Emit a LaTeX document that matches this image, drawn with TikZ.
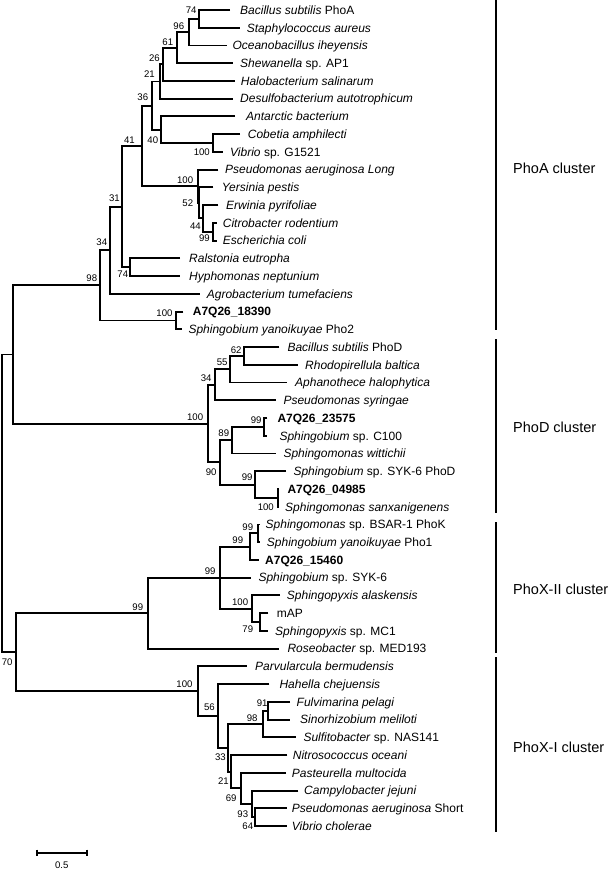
\documentclass[tikz,border=0pt]{standalone}
\usepackage{fontspec}
\setmainfont{Liberation Sans}
\usetikzlibrary{calc}
\tikzset{
  br/.style={line width=1.9pt, black},
  lab/.style={inner sep=0pt, font=\fontsize{12}{14}\selectfont, anchor=base west},
  bsl/.style={inner sep=0pt, font=\fontsize{9.6}{11}\selectfont, anchor=east},
  clab/.style={inner sep=0pt, font=\fontsize{14.5}{17}\selectfont, anchor=base west},
  cbar/.style={line width=1.9pt, black}
}
\newcommand\mkleaf[5]{%
  \coordinate (#1) at (#3, {10+(#2-1)*17.74});
  \node[lab] (#1-t) at (#4, {10+(#2-1)*17.74+4.3}) {#5};
}
\newcommand\mknode[4]{%
  \coordinate (#1-m) at ($(#3)!.5!(#4)$);
  \coordinate (#1) at (#2,0 |- #1-m);
  \draw[br] (#3) -| (#1) |- (#4);
}
\newcommand\bsv[4]{\node[bsl] (#1) at (#2,#3) {#4};}
\begin{document}
\begin{tikzpicture}[x=1pt,y=-1pt]
\useasboundingbox (0,0) rectangle (610,869);
% ---------------- leaves
\mkleaf{L1}{1}{230}{240}{\textit{Bacillus subtilis} PhoA}
\mkleaf{L2}{2}{240}{246.7}{\textit{Staphylococcus aureus}}
\mkleaf{L3}{3}{226.7}{232.3}{\textit{Oceanobacillus iheyensis}}
\mkleaf{L4}{4}{233.3}{240}{\textit{Shewanella} sp. AP1}
\mkleaf{L5}{5}{235}{240.7}{\textit{Halobacterium salinarum}}
\mkleaf{L6}{6}{233.3}{240}{\textit{Desulfobacterium autotrophicum}}
\mkleaf{L7}{7}{235}{246}{\textit{Antarctic bacterium}}
\mkleaf{L8}{8}{240}{247.7}{\textit{Cobetia amphilecti}}
\mkleaf{L9}{9}{222.7}{230}{\textit{Vibrio} sp. G1521}
\mkleaf{L10}{10}{218.3}{225}{\textit{Pseudomonas aeruginosa Long}}
\mkleaf{L11}{11}{213.3}{221.7}{\textit{Yersinia pestis}}
\mkleaf{L12}{12}{218.3}{226}{\textit{Erwinia pyrifoliae}}
\mkleaf{L13}{13}{216.7}{222.7}{\textit{Citrobacter rodentium}}
\mkleaf{L14}{14}{216.7}{222.7}{\textit{Escherichia coli}}
\mkleaf{L15}{15}{180}{189}{\textit{Ralstonia eutropha}}
\mkleaf{L16}{16}{180}{189}{\textit{Hyphomonas neptunium}}
\mkleaf{L17}{17}{200}{206.7}{\textit{Agrobacterium tumefaciens}}
\mkleaf{L18}{18}{183.3}{192.7}{\textbf{A7Q26\_18390}}
\mkleaf{L19}{19}{182}{188.3}{\textit{Sphingobium yanoikuyae} Pho2}
\mkleaf{L20}{20}{279.3}{287.3}{\textit{Bacillus subtilis} PhoD}
\mkleaf{L21}{21}{297.7}{305}{\textit{Rhodopirellula baltica}}
\mkleaf{L22}{22}{287.3}{295}{\textit{Aphanothece halophytica}}
\mkleaf{L23}{23}{276}{283.3}{\textit{Pseudomonas syringae}}
\mkleaf{L24}{24}{267.3}{277.3}{\textbf{A7Q26\_23575}}
\mkleaf{L25}{25}{267.3}{279.3}{\textit{Sphingobium} sp. C100}
\mkleaf{L26}{26}{276}{283.3}{\textit{Sphingomonas wittichii}}
\mkleaf{L27}{27}{286}{293.3}{\textit{Sphingobium} sp. SYK-6 PhoD}
\mkleaf{L28}{28}{279}{287.3}{\textbf{A7Q26\_04985}}
\mkleaf{L29}{29}{279}{285}{\textit{Sphingomonas sanxanigenens}}
\mkleaf{L30}{30}{260}{265.5}{\textit{Sphingomonas} sp. BSAR-1 PhoK}
\mkleaf{L31}{31}{260}{266.7}{\textit{Sphingobium yanoikuyae} Pho1}
\mkleaf{L32}{32}{259.3}{265}{\textbf{A7Q26\_15460}}
\mkleaf{L33}{33}{250.7}{258.3}{\textit{Sphingobium} sp. SYK-6}
\mkleaf{L34}{34}{280}{286.7}{\textit{Sphingopyxis alaskensis}}
\mkleaf{L35}{35}{268.3}{276.7}{mAP}
\mkleaf{L36}{36}{268.3}{275}{\textit{Sphingopyxis} sp. MC1}
\mkleaf{L37}{37}{279.3}{287.3}{\textit{Roseobacter} sp. MED193}
\mkleaf{L38}{38}{246.7}{255}{\textit{Parvularcula bermudensis}}
\mkleaf{L39}{39}{269.3}{279.3}{\textit{Hahella chejuensis}}
\mkleaf{L40}{40}{290}{296.5}{\textit{Fulvimarina pelagi}}
\mkleaf{L41}{41}{290}{300}{\textit{Sinorhizobium meliloti}}
\mkleaf{L42}{42}{296}{303.3}{\textit{Sulfitobacter} sp. NAS141}
\mkleaf{L43}{43}{287.3}{292.7}{\textit{Nitrosococcus oceani}}
\mkleaf{L44}{44}{286}{291.7}{\textit{Pasteurella multocida}}
\mkleaf{L45}{45}{298.3}{304}{\textit{Campylobacter jejuni}}
\mkleaf{L46}{46}{286.7}{291.7}{\textit{Pseudomonas aeruginosa} Short}
\mkleaf{L47}{47}{286.7}{291.7}{\textit{Vibrio cholerae}}
% ---------------- PhoA clade
\mknode{N74a}{199.3}{L1}{L2}
\mknode{N96}{188.7}{N74a}{L3}
\mknode{N61}{176.7}{N96}{L4}
\mknode{N26}{162.7}{N61}{L5}
\mknode{N21a}{160}{N26}{L6}
\mknode{N100c}{212.7}{L8}{L9}
\mknode{N40}{161.3}{L7}{N100c}
\mknode{N36}{152}{N21a}{N40}
\mknode{N99e}{212.7}{L13}{L14}
\mknode{N44}{203.3}{L12}{N99e}
\mknode{N52}{199.3}{L11}{N44}
\mknode{N100d}{197.7}{L10}{N52}
\mknode{N41}{141.7}{N36}{N100d}
\mknode{N74b}{130}{L15}{L16}
\mknode{N31}{121.7}{N41}{N74b}
\mknode{N34a}{110}{N31}{L17}
\mknode{N100e}{175.7}{L18}{L19}
\mknode{N98}{100}{N34a}{N100e}
% ---------------- PhoD clade
\mknode{N62}{244.3}{L20}{L21}
\mknode{N55}{230}{N62}{L22}
\mknode{N34b}{215}{N55}{L23}
\mknode{N99a}{264.3}{L24}{L25}
\mknode{N89}{232.3}{N99a}{L26}
\mknode{N100b}{277.7}{L28}{L29}
\mknode{N99b}{255}{L27}{N100b}
\mknode{N90}{220}{N89}{N99b}
\mknode{N100f}{208.3}{N34b}{N90}
\mknode{NX}{13}{N98}{N100f}
% ---------------- PhoX-II clade
\mknode{N99d}{258.3}{L30}{L31}
\mknode{N99c}{250}{N99d}{L32}
\mknode{N79}{260}{L35}{L36}
\mknode{N100g}{252.3}{L34}{N79}
\mknode{N99f}{220}{N99c}{N100g}
\draw[br] (L33 -| N99f) -- (L33);
\mknode{N99g}{147.7}{N99f}{L37}
% ---------------- PhoX-I clade
\mknode{N91}{268.3}{L40}{L41}
\mknode{N98b}{262.7}{N91}{L42}
\mknode{N64}{255}{L46}{L47}
\mknode{N93}{252.3}{L45}{N64}
\mknode{N69}{240.7}{L44}{N93}
\mknode{N21b}{231}{L43}{N69}
\mknode{N33}{228.3}{N98b}{N21b}
\mknode{N56}{218.3}{L39}{N33}
\mknode{N100h}{197.7}{L38}{N56}
\mknode{N70}{16}{N99g}{N100h}
\mknode{Root}{2}{NX}{N70}
% ---------------- bootstrap values
\bsv{b1}{196.7}{10.7}{74}
\bsv{b2}{184.3}{26}{96}
\bsv{b3}{173.3}{41.7}{61}
\bsv{b4}{160}{58.3}{26}
\bsv{b5}{155}{74}{21}
\bsv{b6}{148.3}{96.7}{36}
\bsv{b7}{135}{140}{41}
\bsv{b8}{158.3}{140}{40}
\bsv{b9}{210}{151.7}{100}
\bsv{b10}{193.3}{180}{100}
\bsv{b11}{120}{198.3}{31}
\bsv{b12}{193.3}{203.3}{52}
\bsv{b13}{201}{226}{44}
\bsv{b14}{210}{238.3}{99}
\bsv{b15}{107.3}{241.7}{34}
\bsv{b16}{128.3}{274}{74}
\bsv{b17}{97.3}{277.7}{98}
\bsv{b18}{172.7}{313.3}{100}
\bsv{b19}{241.7}{350}{62}
\bsv{b20}{227.7}{362.7}{55}
\bsv{b21}{211.7}{378.3}{34}
\bsv{b22}{203.3}{416.7}{100}
\bsv{b23}{261.7}{420}{99}
\bsv{b24}{229.3}{433.3}{89}
\bsv{b25}{216.7}{471.7}{90}
\bsv{b26}{252.7}{477.3}{99}
\bsv{b27}{274}{506.7}{100}
\bsv{b28}{253.3}{526.7}{99}
\bsv{b29}{243.3}{540}{99}
\bsv{b30}{215.7}{571}{99}
\bsv{b31}{143.3}{606.7}{99}
\bsv{b32}{248.3}{601.7}{100}
\bsv{b33}{253.3}{629.3}{79}
\bsv{b34}{12.7}{661.7}{70}
\bsv{b35}{192.7}{684.3}{100}
\bsv{b36}{215}{707.3}{56}
\bsv{b37}{267.7}{702.7}{91}
\bsv{b38}{257.7}{717.7}{98}
\bsv{b39}{226}{757.3}{33}
\bsv{b40}{229}{780.7}{21}
\bsv{b41}{236.7}{797.7}{69}
\bsv{b42}{248.3}{814}{93}
\bsv{b43}{253.3}{826}{64}
% ---------------- cluster bars and labels
\coordinate (ca1) at (496,0);   \coordinate (ca2) at (496,330);
\coordinate (cd1) at (496,339); \coordinate (cd2) at (496,513);
\coordinate (c21) at (496,522); \coordinate (c22) at (496,653);
\coordinate (c11) at (496,657); \coordinate (c12) at (496,832);
\draw[cbar] (ca1) -- (ca2);
\draw[cbar] (cd1) -- (cd2);
\draw[cbar] (c21) -- (c22);
\draw[cbar] (c11) -- (c12);
\node[clab] (cA) at (513,173.2) {PhoA cluster};
\node[clab] (cD) at (513,432.2) {PhoD cluster};
\node[clab] (cX2) at (513,594.2) {PhoX-II cluster};
\node[clab] (cX1) at (513,752.2) {PhoX-I cluster};
% ---------------- scale bar
\coordinate (s1) at (36.7,852.7);
\coordinate (s2) at (86.7,852.7);
\draw[br] (s1) -- (s2);
\draw[br] ([yshift=3pt]s1) -- ([yshift=-3pt]s1);
\draw[br] ([yshift=3pt]s2) -- ([yshift=-3pt]s2);
\node[inner sep=0pt, font=\fontsize{9.6}{11}\selectfont] (sl) at (61.7,865) {0.5};
\end{tikzpicture}
\end{document}
